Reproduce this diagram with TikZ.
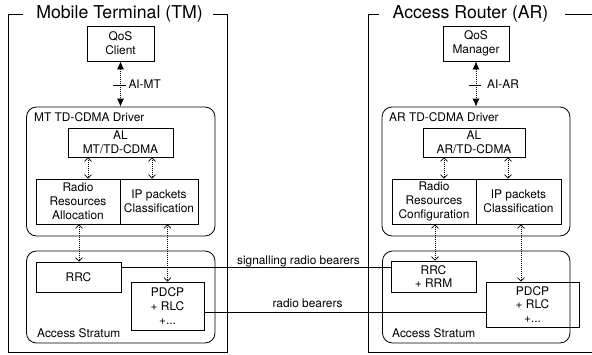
\documentclass[tikz,border=0pt]{standalone}
\usepackage{fontspec}
\setmainfont{TeX Gyre Heros}
\usetikzlibrary{arrows.meta,calc}
\tikzset{
  box/.style={draw, line width=0.8pt, inner sep=0pt, align=center, font=\fontsize{11.9}{13.8}\selectfont},
  rbox/.style={draw, line width=0.8pt, rounded corners=10pt, inner sep=0pt},
  lbl/.style={inner sep=0pt, font=\fontsize{11.9}{13.8}\selectfont},
  ttl/.style={inner sep=0pt, font=\fontsize{17.7}{20}\selectfont},
  frame/.style={line width=0.8pt},
  bigar/.style={line width=0.8pt, dash pattern=on 1pt off 1pt, {Latex[length=8pt,width=7pt]}-{Latex[length=8pt,width=7pt]}},
  dar/.style={line width=0.7pt, dash pattern=on 1pt off 1pt, {Straight Barb[length=3.5pt,width=7pt]}-{Straight Barb[length=3.5pt,width=7pt]}},
  wire/.style={line width=0.8pt}
}
\begin{document}
\begin{tikzpicture}[x=1pt,y=-1pt]
\path[use as bounding box] (0,0) rectangle (592,354);
% ---- titles and frames
\node[ttl, anchor=base] (t1) at (119.5,18.3) {Mobile Terminal (TM)};
\node[ttl, anchor=base] (t2) at (470.5,18.3) {Access Router (AR)};
\coordinate (f1a) at (23,14.7);
\coordinate (f1b) at (213,14.7);
\draw[frame] (f1a) -- (8,14.7) -- (8,352.5) -- (227.5,352.5) -- (227.5,14.7) -- (f1b);
\coordinate (f2a) at (379,14.7);
\coordinate (f2b) at (565,14.7);
\draw[frame] (f2a) -- (368.5,14.7) -- (368.5,352.5) -- (594,352.5);
\draw[frame] (f2b) -- (594,14.7);

% ---- left side
\node[box, minimum width=67, minimum height=35] (qc) at (120.5,43.5) {QoS\\Client};
\node[rbox, minimum width=188.5, minimum height=129] (drv) at (120.75,171.5) {};
\node[lbl, anchor=base west] (drvl) at (34,121) {MT TD-CDMA Driver};
\node[box, minimum width=105, minimum height=29] (al) at (120.5,142.5) {AL\\MT/TD-CDMA};
\node[box, minimum width=84, minimum height=45] (rra) at (78,201.5) {Radio\\Resources\\Allocation};
\node[box, minimum width=78, minimum height=45] (ipc) at (159,201.5) {IP packets\\Classification};
\node[rbox, minimum width=188.5, minimum height=92] (as) at (120.75,297) {};
\node[lbl, anchor=base west] (asl) at (37,337) {Access Stratum};
\node[box, minimum width=85, minimum height=30] (rrc) at (78.5,277) {RRC};
\node[box, minimum width=73, minimum height=48] (pdcp) at (167.5,306) {PDCP\\+ RLC\\+...};

\draw[bigar] (qc.south) -- (qc.south |- drv.north);
\coordinate (tk1) at (113,85);
\coordinate (tk1b) at (125.5,85);
\draw[line width=0.7pt] (tk1) -- (tk1b);
\node[lbl, anchor=base west] (aimt) at (128.3,88.5) {AI-MT};
\draw[dar] ([xshift=-32.5]al.south) -- ([xshift=-32.5]al.south |- rra.north);
\draw[dar] ([xshift=31.5]al.south) -- ([xshift=31.5]al.south |- ipc.north);
\draw[dar] ([xshift=1]rra.south) -- ([xshift=1]rra.south |- rrc.north);
\draw[dar] (pdcp.north |- ipc.south) -- (pdcp.north);

% ---- right side
\node[box, minimum width=66, minimum height=35] (qm) at (476,43.5) {QoS\\Manager};
\node[rbox, minimum width=188, minimum height=129] (drv2) at (476,171.5) {};
\node[lbl, anchor=base west] (drvl2) at (389,121) {AR TD-CDMA Driver};
\node[box, minimum width=102, minimum height=29] (al2) at (474,142.5) {AL\\AR/TD-CDMA};
\node[box, minimum width=84, minimum height=45] (rrcf) at (434,201.5) {Radio\\Resources\\Configuration};
\node[box, minimum width=85, minimum height=45] (ipc2) at (518.5,201.5) {IP packets\\Classification};
\node[rbox, minimum width=187.5, minimum height=92] (as2) at (476.25,297) {};
\node[lbl, anchor=base west] (asl2) at (392,337) {Access Stratum};
\node[box, minimum width=85, minimum height=31] (rrm) at (433.5,276.5) {RRC\\+ RRM};
\node[box, minimum width=93, minimum height=45] (pdcp2) at (532.5,304.5) {PDCP\\+ RLC\\+...};

\draw[bigar] (qm.south) -- (qm.south |- drv2.north);
\coordinate (tk2) at (468.5,85);
\coordinate (tk2b) at (481,85);
\draw[line width=0.7pt] (tk2) -- (tk2b);
\node[lbl, anchor=base west] (aiar) at (487,88.5) {AI-AR};
\draw[dar] ([xshift=-30]al2.south) -- ([xshift=-30]al2.south |- rrcf.north);
\draw[dar] ([xshift=34]al2.south) -- ([xshift=34]al2.south |- ipc2.north);
\draw[dar] ([xshift=1]rrcf.south) -- ([xshift=1]rrcf.south |- rrm.north);
\draw[dar] ([xshift=-11.5]pdcp2.north |- ipc2.south) -- ([xshift=-11.5]pdcp2.north);

% ---- bearers
\draw[wire] ([yshift=10]rrc.east) -- ([yshift=10]rrc.east -| rrm.west);
\node[lbl, anchor=base] (sig) at (298.5,264.5) {signalling radio bearers};
\draw[wire] ([yshift=-6]pdcp.east) -- ([yshift=-6]pdcp.east -| pdcp2.west);
\node[lbl, anchor=base] (rb) at (307.5,307.3) {radio bearers};
\end{tikzpicture}
\end{document}
